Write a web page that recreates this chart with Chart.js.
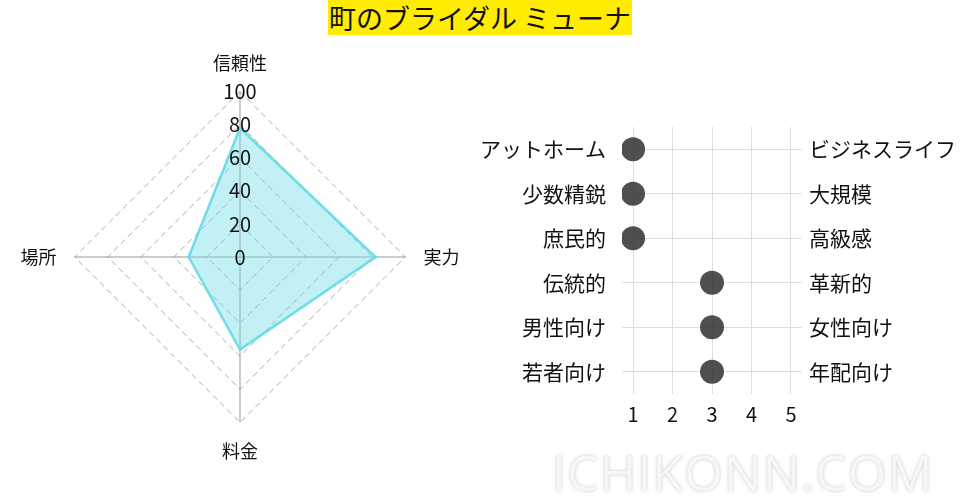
<!DOCTYPE html>
<html>
<head>
<meta charset="utf-8">
<script src="https://cdn.jsdelivr.net/npm/chart.js@4/dist/chart.umd.min.js"></script>
<style>
    body { margin: 0; background: #fff; font-family: "Noto Sans CJK JP", sans-serif; }
    #wrap { position: relative; width: 960px; height: 504px; overflow: hidden; }
    #title {
        position: absolute; left: 328px; top: 0; width: 304px; height: 35px;
        background: #ffec00; color: #111; font-size: 27px; line-height: 35px;
        text-align: center; white-space: nowrap;
    }
    #radarBox { position: absolute; left: 0; top: 53px; width: 480px; height: 410px; }
    #dotBox { position: absolute; left: 482px; top: 127px; width: 478px; height: 307px; }
    #mark {
        position: absolute; left: 552px; top: 438px; font-family: "Open Sans", sans-serif;
        font-size: 50px; color: #f7f7f7; letter-spacing: 1px;
        text-shadow: 0 0 2px #d0d0d0, 0 0 4px #e2e2e2;
    }
</style>
</head>
<body>
<div id="wrap">
    <div id="title">町のブライダル ミューナ</div>
    <div id="radarBox"><canvas id="radarChart"></canvas></div>
    <div id="dotBox"><canvas id="dotChart"></canvas></div>
    <div id="mark">ICHIKONN.COM</div>
</div>
<script>
// radar
const radarLabels = ['信頼性', '実力', '料金', '場所'];
const radarValues = [78, 82, 56, 31];
const radarTicks = [0, 20, 40, 60, 80, 100];

// position map
const leftLabels = ['アットホーム', '少数精鋭', '庶民的', '伝統的', '男性向け', '若者向け'];
const rightLabels = ['ビジネスライフ', '大規模', '高級感', '革新的', '女性向け', '年配向け'];
const positionValues = [1, 1, 1, 3, 3, 3];
const positionTicks = [1, 2, 3, 4, 5];

Chart.defaults.font.family = '"Noto Sans CJK JP", sans-serif';
Chart.defaults.color = '#111';

new Chart(document.getElementById('radarChart'), {
    type: 'radar',
    data: {
        labels: radarLabels,
        datasets: [{
            data: radarValues,
            backgroundColor: 'rgba(110, 220, 230, 0.42)',
            borderColor: 'rgba(100, 218, 228, 0.9)',
            borderWidth: 2.5,
            pointRadius: 0
        }]
    },
    options: {
        responsive: true,
        maintainAspectRatio: false,
        animation: false,
        plugins: { legend: { display: false }, tooltip: { enabled: false } },
        scales: {
            r: {
                min: -0.01,
                max: 100,
                afterBuildTicks: (scale) => {
                    scale.ticks = radarTicks.map(v => ({ value: v }));
                },
                ticks: {
                    showLabelBackdrop: false,
                    color: '#111',
                    font: { size: 20 },
                    z: 1
                },
                grid: { color: '#aaa', lineWidth: 1 },
                border: { dash: [6, 4] },
                angleLines: { color: '#999', lineWidth: 1 },
                pointLabels: { font: { size: 18 }, color: '#111', padding: 6 }
            }
        }
    }
});

// keep the long labels from being squeezed into a quarter of the canvas
const fixWidth = (w) => (scale) => {
    scale.width = w;
    scale.paddingTop = 0;
    scale.paddingBottom = 0;
};

new Chart(document.getElementById('dotChart'), {
    type: 'scatter',
    data: {
        labels: leftLabels,
        datasets: [{
            data: positionValues.map((v, i) => ({ x: v, y: leftLabels[i] })),
            backgroundColor: 'rgba(45, 45, 45, 0.84)',
            borderWidth: 0,
            pointRadius: 12,
            pointHoverRadius: 12
        }]
    },
    options: {
        responsive: true,
        maintainAspectRatio: false,
        animation: false,
        layout: { autoPadding: false, padding: { top: 0, right: 3 } },
        plugins: { legend: { display: false }, tooltip: { enabled: false } },
        scales: {
            x: {
                type: 'linear',
                min: 0.72,
                max: 5.28,
                afterBuildTicks: (scale) => {
                    scale.ticks = positionTicks.map(v => ({ value: v }));
                },
                ticks: { font: { size: 20 }, color: '#111', padding: 8 },
                grid: { color: '#ddd', drawTicks: false },
                border: { display: false }
            },
            y: {
                type: 'category',
                labels: leftLabels,
                offset: true,
                position: 'left',
                afterFit: fixWidth(140),
                ticks: { font: { size: 21 }, color: '#111', padding: 16 },
                grid: { color: '#ddd', offset: false, drawTicks: false },
                border: { display: false }
            },
            y2: {
                type: 'category',
                labels: rightLabels,
                offset: true,
                position: 'right',
                afterFit: fixWidth(155),
                ticks: { font: { size: 21 }, color: '#111', padding: 7 },
                grid: { display: false, drawTicks: false },
                border: { display: false }
            }
        }
    }
});
</script>
</body>
</html>
